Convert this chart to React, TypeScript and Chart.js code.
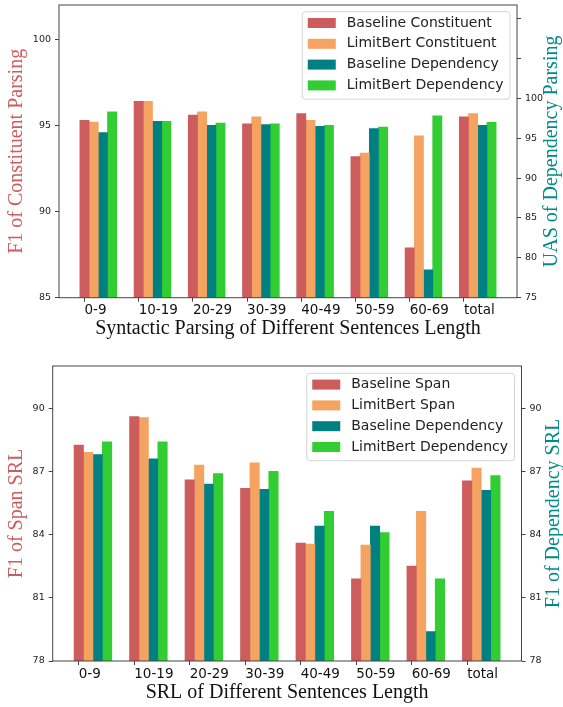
import React, { useEffect, useRef } from 'react';
import { Chart, registerables } from 'chart.js';

Chart.register(...registerables);

// ---------- data ----------
const lengthBins = ['0-9', '10-19', '20-29', '30-39', '40-49', '50-59', '60-69', 'total'];

// Syntactic parsing (left axis: F1 constituent, right axis: UAS dependency)
const baselineConstituent = [95.3, 96.4, 95.6, 95.1, 95.7, 93.2, 87.9, 95.5];
const limitbertConstituent = [95.2, 96.4, 95.8, 95.5, 95.3, 93.4, 94.4, 95.7];
const baselineDependencyUAS = [95.7, 97.1, 96.6, 96.7, 96.5, 96.2, 78.5, 96.6];
const limitbertDependencyUAS = [98.3, 97.1, 96.9, 96.8, 96.6, 96.4, 97.8, 97.0];

// SRL (left axis: span F1, right axis: dependency F1)
const baselineSpan = [88.25, 89.6, 86.6, 86.2, 83.6, 81.9, 82.5, 86.55];
const limitbertSpan = [87.9, 89.55, 87.3, 87.4, 83.55, 83.5, 85.1, 87.15];
const baselineDepSRL = [87.8, 87.6, 86.4, 86.15, 84.4, 84.4, 79.4, 86.1];
const limitbertDepSRL = [88.4, 88.4, 86.9, 87.0, 85.1, 84.1, 81.9, 86.8];

const uasLabelMax = 100;
const srlLabelMax = 90;

// ---------- styling ----------
const COLORS = ['#CD5C5C', '#F4A460', '#008080', '#32CD32'];
const SANS = "'DejaVu Sans', sans-serif";
const SERIF = "'Liberation Serif', 'Times New Roman', serif";
const BAR_W = 0.17;
const X_MIN = -0.47;
const X_MAX = 7.98;

const framePlugin = {
  id: 'frame',
  afterDraw(chart: any) {
    const { ctx, chartArea: a } = chart;
    ctx.save();
    ctx.strokeStyle = '#444';
    ctx.lineWidth = 1;
    ctx.strokeRect(a.left, a.top, a.right - a.left, a.bottom - a.top);
    ctx.restore();
  },
};

const boxLegendPlugin = {
  id: 'boxLegend',
  afterDraw(chart: any, _args: any, opts: any) {
    const { ctx, chartArea: a } = chart;
    const items = chart.data.datasets;
    ctx.save();
    ctx.font = `14px ${SANS}`;
    const maxW = Math.max(...items.map((d: any) => ctx.measureText(d.label).width));
    const padL = 5.5, handle = 28, gap = 11, padR = 6.5, rowH = 20.8, firstRow = 11.3;
    const w = padL + handle + gap + maxW + padR;
    const h = firstRow + rowH * (items.length - 1) + 13.7;
    const x = a.right - 7 - w;
    const y = a.top + opts.top;
    ctx.beginPath();
    if ((ctx as any).roundRect) (ctx as any).roundRect(x, y, w, h, 3);
    else ctx.rect(x, y, w, h);
    ctx.fillStyle = 'rgba(255,255,255,0.85)';
    ctx.fill();
    ctx.strokeStyle = '#d4d4d4';
    ctx.lineWidth = 1;
    ctx.stroke();
    items.forEach((d: any, i: number) => {
      const cy = y + firstRow + i * rowH;
      ctx.fillStyle = d.backgroundColor;
      ctx.fillRect(x + padL, cy - 5, handle, 10);
      ctx.fillStyle = '#222';
      ctx.textBaseline = 'middle';
      ctx.textAlign = 'left';
      ctx.fillText(d.label, x + padL + handle + gap, cy);
    });
    ctx.restore();
  },
};

const sideTitlePlugin = {
  id: 'sideTitle',
  afterDraw(chart: any, _args: any, opts: any) {
    const { ctx, chartArea: a } = chart;
    ctx.save();
    ctx.translate(opts.x, (a.top + a.bottom) / 2);
    ctx.rotate(-Math.PI / 2);
    ctx.font = `20px ${SERIF}`;
    ctx.fillStyle = opts.color;
    ctx.textAlign = 'center';
    ctx.textBaseline = 'middle';
    ctx.fillText(opts.text, 0, 0);
    ctx.restore();
  },
};

function zeroPad(axis: any) {
  axis.paddingTop = 0;
  axis.paddingBottom = 0;
  axis.paddingLeft = 0;
  axis.paddingRight = 0;
}

type Series = { label: string; data: number[]; axis: 'y' | 'y1' };

function buildConfig(p: {
  series: Series[];
  leftRange: [number, number];
  rightRange: [number, number];
  leftStep: number;
  rightStep: number;
  rightLabelMax: number;
  leftTitle: string;
  rightTitle: string;
  xTitle: string;
  leftWidth: number;
  rightWidth: number;
  xHeight: number;
  padTop: number;
  legendTop: number;
  rightTitleX: number;
  xTitlePadBottom: number;
}): any {
  const yTicks = { font: { family: SANS, size: 9.5 }, color: '#222', padding: 4, includeBounds: false, autoSkip: false };
  const yGrid = { drawOnChartArea: false, drawTicks: true, tickLength: 4, color: '#444' };
  return {
    type: 'bar',
    data: {
      datasets: p.series.map((s, k) => ({
        label: s.label,
        data: s.data.map((v, i) => ({ x: i + k * BAR_W, y: v })),
        backgroundColor: COLORS[k],
        borderWidth: 0,
        yAxisID: s.axis,
        grouped: false,
        categoryPercentage: 1,
        barPercentage: 1,
      })),
    },
    options: {
      animation: false,
      responsive: false,
      events: [],
      layout: { padding: { top: p.padTop, left: 0, right: 0, bottom: 0 } },
      plugins: {
        legend: { display: false },
        tooltip: { enabled: false },
        boxLegend: { top: p.legendTop },
        sideTitle: { text: p.rightTitle, color: '#008B8B', x: p.rightTitleX },
      },
      scales: {
        x: {
          type: 'linear',
          min: X_MIN,
          max: X_MAX,
          offset: false,
          afterBuildTicks: (axis: any) => {
            axis.ticks = lengthBins.map((_, i) => ({ value: i }));
          },
          afterFit: (axis: any) => {
            axis.height = p.xHeight;
            zeroPad(axis);
          },
          grid: { drawOnChartArea: false, drawTicks: true, tickLength: 4, color: '#444', offset: false },
          border: { display: false },
          ticks: {
            autoSkip: false,
            maxRotation: 0,
            minRotation: 0,
            align: 'start',
            padding: 1,
            color: '#111',
            font: { family: SANS, size: 13.5 },
            callback: (v: any) => lengthBins[Math.round(Number(v))] ?? '',
          },
          title: {
            display: true,
            text: p.xTitle,
            color: '#111',
            font: { family: SERIF, size: 20, lineHeight: 1.1 },
            padding: { top: 0, bottom: p.xTitlePadBottom },
          },
        },
        y: {
          type: 'linear',
          position: 'left',
          min: p.leftRange[0],
          max: p.leftRange[1],
          beginAtZero: false,
          afterFit: (axis: any) => {
            axis.width = p.leftWidth;
            zeroPad(axis);
          },
          grid: yGrid,
          border: { display: false },
          ticks: { ...yTicks, stepSize: p.leftStep },
          title: {
            display: true,
            text: p.leftTitle,
            color: '#CD5C5C',
            font: { family: SERIF, size: 20, lineHeight: 1.2 },
            padding: { top: 5, bottom: 0 },
          },
        },
        y1: {
          type: 'linear',
          position: 'right',
          min: p.rightRange[0],
          max: p.rightRange[1],
          beginAtZero: false,
          afterFit: (axis: any) => {
            axis.width = p.rightWidth;
            zeroPad(axis);
          },
          grid: yGrid,
          border: { display: false },
          ticks: {
            ...yTicks,
            stepSize: p.rightStep,
            callback: (v: any) => (Number(v) <= p.rightLabelMax ? String(v) : ''),
          },
        },
      },
    },
    plugins: [framePlugin, boxLegendPlugin, sideTitlePlugin],
  };
}

export default function App() {
  const topRef = useRef<HTMLCanvasElement>(null);
  const botRef = useRef<HTMLCanvasElement>(null);

  useEffect(() => {
    const top = new Chart(
      topRef.current as HTMLCanvasElement,
      buildConfig({
        series: [
          { label: 'Baseline Constituent', data: baselineConstituent, axis: 'y' },
          { label: 'LimitBert Constituent', data: limitbertConstituent, axis: 'y' },
          { label: 'Baseline Dependency', data: baselineDependencyUAS, axis: 'y1' },
          { label: 'LimitBert Dependency', data: limitbertDependencyUAS, axis: 'y1' },
        ],
        leftRange: [85, 102],
        rightRange: [75, 111.7],
        leftStep: 5,
        rightStep: 5,
        rightLabelMax: uasLabelMax,
        leftTitle: 'F1 of Constituent Parsing',
        rightTitle: 'UAS of Dependency Parsing',
        xTitle: 'Syntactic Parsing of Different Sentences Length',
        leftWidth: 59,
        rightWidth: 46,
        xHeight: 42.3,
        padTop: 5,
        legendTop: 6.7,
        rightTitleX: 552,
        xTitlePadBottom: 0,
      })
    );
    const bot = new Chart(
      botRef.current as HTMLCanvasElement,
      buildConfig({
        series: [
          { label: 'Baseline Span', data: baselineSpan, axis: 'y' },
          { label: 'LimitBert Span', data: limitbertSpan, axis: 'y' },
          { label: 'Baseline Dependency', data: baselineDepSRL, axis: 'y1' },
          { label: 'LimitBert Dependency', data: limitbertDepSRL, axis: 'y1' },
        ],
        leftRange: [78, 92],
        rightRange: [78, 92],
        leftStep: 3,
        rightStep: 3,
        rightLabelMax: srlLabelMax,
        leftTitle: 'F1 of Span SRL',
        rightTitle: 'F1 of Dependency SRL',
        xTitle: 'SRL of Different Sentences Length',
        leftWidth: 52.7,
        rightWidth: 41.5,
        xHeight: 46,
        padTop: 26,
        legendTop: 7.3,
        rightTitleX: 554,
        xTitlePadBottom: 3,
      })
    );
    return () => {
      top.destroy();
      bot.destroy();
    };
  }, []);

  return (
    <div style={{ position: 'absolute', left: 0, top: 0, width: 563, height: 707, background: '#fff' }}>
      <canvas ref={topRef} width={563} height={340} style={{ display: 'block', width: 563, height: 340 }} />
      <canvas ref={botRef} width={563} height={367} style={{ display: 'block', width: 563, height: 367 }} />
    </div>
  );
}
